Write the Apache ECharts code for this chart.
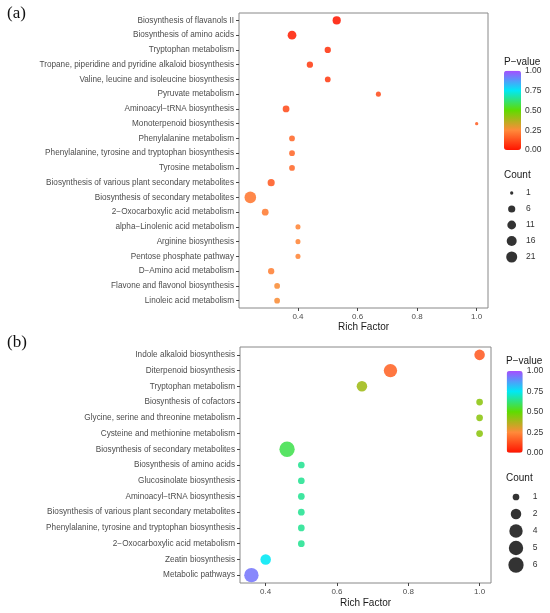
<!DOCTYPE html>
<html>
<head>
<meta charset="utf-8">
<script src="https://cdn.jsdelivr.net/npm/echarts@6/dist/echarts.min.js"></script>
<style>
  html, body { margin: 0; padding: 0; background: #fff; }
  #main { width: 550px; height: 613px; }
</style>
</head>
<body>
<div id="main"></div>
<script>
// (a) 富集通路数据
const pathwaysA = [
  'Biosynthesis of flavanols II',
  'Biosynthesis of amino acids',
  'Tryptophan metabolism',
  'Tropane, piperidine and pyridine alkaloid biosynthesis',
  'Valine, leucine and isoleucine biosynthesis',
  'Pyruvate metabolism',
  'Aminoacyl\u2212tRNA biosynthesis',
  'Monoterpenoid biosynthesis',
  'Phenylalanine metabolism',
  'Phenylalanine, tyrosine and tryptophan biosynthesis',
  'Tyrosine metabolism',
  'Biosynthesis of various plant secondary metabolites',
  'Biosynthesis of secondary metabolites',
  '2\u2212Oxocarboxylic acid metabolism',
  'alpha\u2212Linolenic acid metabolism',
  'Arginine biosynthesis',
  'Pentose phosphate pathway',
  'D\u2212Amino acid metabolism',
  'Flavone and flavonol biosynthesis',
  'Linoleic acid metabolism'
];
const richA  = [0.53, 0.38, 0.50, 0.44, 0.50, 0.67, 0.36, 1.00, 0.38, 0.38, 0.38, 0.31, 0.24, 0.29, 0.40, 0.40, 0.40, 0.31, 0.33, 0.33];
const countA = [9, 11, 4, 4, 3, 2, 5, 1, 3, 3, 3, 6, 24, 5, 2, 2, 2, 4, 3, 3];
const pvalA  = [0.01, 0.03, 0.07, 0.09, 0.09, 0.12, 0.12, 0.16, 0.18, 0.18, 0.18, 0.15, 0.21, 0.22, 0.24, 0.24, 0.24, 0.23, 0.26, 0.26];

// (b) 富集通路数据
const pathwaysB = [
  'Indole alkaloid biosynthesis',
  'Diterpenoid biosynthesis',
  'Tryptophan metabolism',
  'Biosynthesis of cofactors',
  'Glycine, serine and threonine metabolism',
  'Cysteine and methionine metabolism',
  'Biosynthesis of secondary metabolites',
  'Biosynthesis of amino acids',
  'Glucosinolate biosynthesis',
  'Aminoacyl\u2212tRNA biosynthesis',
  'Biosynthesis of various plant secondary metabolites',
  'Phenylalanine, tyrosine and tryptophan biosynthesis',
  '2\u2212Oxocarboxylic acid metabolism',
  'Zeatin biosynthesis',
  'Metabolic pathways'
];
const richB  = [1.00, 0.75, 0.67, 1.00, 1.00, 1.00, 0.46, 0.50, 0.50, 0.50, 0.50, 0.50, 0.50, 0.40, 0.36];
const countB = [2, 4, 2, 1, 1, 1, 6, 1, 1, 1, 1, 1, 1, 2, 5];
const pvalB  = [0.15, 0.17, 0.40, 0.43, 0.43, 0.43, 0.58, 0.65, 0.65, 0.65, 0.65, 0.65, 0.65, 0.75, 0.93];

// 图例刻度
const richTicks = [0.4, 0.6, 0.8, 1.0];
const pTicks = [0, 0.25, 0.5, 0.75, 1];
const countTicksA = [1, 6, 11, 16, 21];
const countTicksB = [1, 2, 4, 5, 6];

const FONT = '"Liberation Sans", Arial, sans-serif';
const rampColors = ['#ff1400', '#ff8a3a', '#5fdc00', '#00e8f5', '#a64dff'];

// ggplot 风格面积映射
function makeSize(cMin, cMax, dMin, dMax) {
  return c => dMin + (dMax - dMin) * Math.sqrt((c - cMin) / (cMax - cMin));
}
const sizeA = makeSize(1, 24, 3.3, 11.6);
const sizeB = makeSize(1, 6, 6.7, 15.3);

const dataA = pathwaysA.map((p, i) => [richA[i], p, countA[i], pvalA[i]]);
const dataB = pathwaysB.map((p, i) => [richB[i], p, countB[i], pvalB[i]]);

const labelStyle = { fontFamily: FONT, fontSize: 8.2, color: '#4d4d4d' };

function mainAxes(cats, min, max) {
  return {
    x: {
      type: 'value', min: min, max: max,
      axisLine: { show: false },
      axisTick: { show: true, length: 3, lineStyle: { color: '#444' }, customValues: richTicks },
      axisLabel: { margin: 5, customValues: richTicks, formatter: v => v.toFixed(1), fontFamily: FONT, fontSize: 8, color: '#4d4d4d' },
      splitLine: { show: false },
      name: 'Rich Factor', nameLocation: 'middle',
      nameTextStyle: { fontFamily: FONT, fontSize: 10, color: '#1a1a1a' }
    },
    y: {
      type: 'category', data: cats, inverse: true,
      axisLine: { show: false },
      axisTick: { show: true, length: 3, alignWithLabel: true, lineStyle: { color: '#444' } },
      axisLabel: Object.assign({ margin: 5, interval: 0 }, labelStyle),
      splitLine: { show: false }
    }
  };
}
const axA = mainAxes(pathwaysA, 0.202, 1.038);
const axB = mainAxes(pathwaysB, 0.328, 1.032);
axA.x.nameGap = 14;
axB.x.nameGap = 15;

function hiddenX(gi) {
  return { gridIndex: gi, type: 'value', min: 0, max: 1, show: false };
}
function barAxis(gi) {
  return {
    gridIndex: gi, type: 'value', min: 0, max: 1, interval: 0.25, position: 'right', z: 10,
    axisLine: { show: false },
    axisTick: { show: true, inside: true, length: 4, lineStyle: { color: '#fff', width: 1 } },
    axisLabel: { margin: 4, fontFamily: FONT, fontSize: 8.5, color: '#333', formatter: v => v.toFixed(2) },
    splitLine: { show: false }
  };
}
function countAxis(gi, ticks, margin) {
  return {
    gridIndex: gi, type: 'category', data: ticks.map(String), inverse: true, position: 'right',
    axisLine: { show: false }, axisTick: { show: false },
    axisLabel: { margin: margin, fontFamily: FONT, fontSize: 8.5, color: '#333' },
    splitLine: { show: false }
  };
}

const chart = echarts.init(document.getElementById('main'), null, { renderer: 'canvas' });

const option = {
  backgroundColor: '#fff',
  animation: false,
  title: [
    { text: '(a)', left: 7, top: 5, padding: 0, textStyle: { fontFamily: '"Liberation Serif", "Times New Roman", serif', fontSize: 17, fontWeight: 'normal', color: '#111' } },
    { text: '(b)', left: 7, top: 334, padding: 0, textStyle: { fontFamily: '"Liberation Serif", "Times New Roman", serif', fontSize: 17, fontWeight: 'normal', color: '#111' } },
    { text: 'P\u2212value', left: 504, top: 57, padding: 0, textStyle: { fontFamily: FONT, fontSize: 10, fontWeight: 'normal', color: '#1a1a1a' } },
    { text: 'Count', left: 504, top: 170, padding: 0, textStyle: { fontFamily: FONT, fontSize: 10, fontWeight: 'normal', color: '#1a1a1a' } },
    { text: 'P\u2212value', left: 506, top: 356, padding: 0, textStyle: { fontFamily: FONT, fontSize: 10, fontWeight: 'normal', color: '#1a1a1a' } },
    { text: 'Count', left: 506, top: 473, padding: 0, textStyle: { fontFamily: FONT, fontSize: 10, fontWeight: 'normal', color: '#1a1a1a' } }
  ],
  grid: [
    { left: 239, top: 13, width: 249, height: 295, show: true, borderColor: '#888', borderWidth: 1, backgroundColor: '#fff' },
    { left: 240, top: 347, width: 251, height: 236, show: true, borderColor: '#888', borderWidth: 1, backgroundColor: '#fff' },
    // 色条刻度
    { left: 504, top: 70.7, width: 17, height: 79.3 },
    { left: 506.7, top: 371, width: 16, height: 81.7 },
    // Count 图例
    { left: 502, top: 185, width: 19.4, height: 80 },
    { left: 506, top: 488.5, width: 20, height: 85 }
  ],
  xAxis: [
    Object.assign({ gridIndex: 0 }, axA.x),
    Object.assign({ gridIndex: 1 }, axB.x),
    hiddenX(2), hiddenX(3), hiddenX(4), hiddenX(5)
  ],
  yAxis: [
    Object.assign({ gridIndex: 0 }, axA.y),
    Object.assign({ gridIndex: 1 }, axB.y),
    barAxis(2), barAxis(3),
    countAxis(4, countTicksA, 4.6),
    countAxis(5, countTicksB, 6.7)
  ],
  visualMap: [
    {
      type: 'continuous', seriesIndex: 0, dimension: 3, min: 0, max: 1,
      left: 504, top: 70.7, itemWidth: 17, itemHeight: 79.3, padding: 0,
      calculable: false, hoverLink: false, text: null, showLabel: false,
      inRange: { color: rampColors }
    },
    {
      type: 'continuous', seriesIndex: 1, dimension: 3, min: 0, max: 1,
      left: 506.7, top: 371, itemWidth: 16, itemHeight: 81.7, padding: 0,
      calculable: false, hoverLink: false, text: null, showLabel: false,
      inRange: { color: rampColors }
    }
  ],
  series: [
    {
      type: 'scatter', xAxisIndex: 0, yAxisIndex: 0, data: dataA,
      symbolSize: v => sizeA(v[2]),
      itemStyle: { opacity: 0.88 }
    },
    {
      type: 'scatter', xAxisIndex: 1, yAxisIndex: 1, data: dataB,
      symbolSize: v => sizeB(v[2]),
      itemStyle: { opacity: 0.88 }
    },
    {
      type: 'scatter', xAxisIndex: 4, yAxisIndex: 4,
      data: countTicksA.map(c => [0.5, String(c), c]),
      symbolSize: v => sizeA(v[2]),
      itemStyle: { color: '#000' }
    },
    {
      type: 'scatter', xAxisIndex: 5, yAxisIndex: 5,
      data: countTicksB.map(c => [0.5, String(c), c]),
      symbolSize: v => sizeB(v[2]),
      itemStyle: { color: '#000' }
    }
  ]
};

chart.setOption(option);
window.addEventListener('resize', () => {
  chart.resize();
});
</script>
</body>
</html>
